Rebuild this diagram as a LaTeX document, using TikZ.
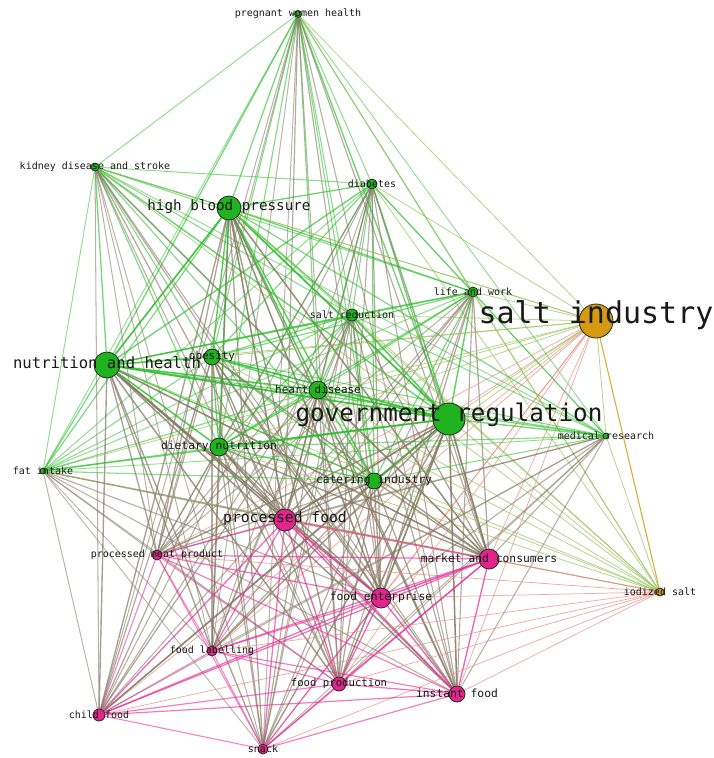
\documentclass[tikz,border=0pt]{standalone}
\usepackage{fontspec}
\newfontfamily\netfont{DejaVu Sans Mono}
\usetikzlibrary{backgrounds}
\definecolor{nodegreen}{HTML}{1FB41F}
\definecolor{nodepink}{HTML}{E2248C}
\definecolor{nodegold}{HTML}{D49A10}
\definecolor{edgeGG}{HTML}{2BBE2B}
\definecolor{edgePP}{HTML}{E62C96}
\definecolor{edgeYY}{HTML}{D8A020}
\definecolor{edgeGP}{HTML}{837862}
\definecolor{edgeGY}{HTML}{96C25A}
\definecolor{edgePY}{HTML}{E8867C}
\tikzset{
  vertex/.style={circle,draw=black!85,line width=.6pt,inner sep=0pt},
  vertexG/.style={vertex,fill=nodegreen},
  vertexP/.style={vertex,fill=nodepink},
  vertexY/.style={vertex,fill=nodegold},
  eGG/.style={draw=edgeGG}, ePP/.style={draw=edgePP},
  eYY/.style={draw=edgeYY,line width=.8pt,draw opacity=.9},
  eGP/.style={draw=edgeGP}, ePG/.style={eGP},
  eGY/.style={draw=edgeGY,line width=.6pt,draw opacity=.7}, eYG/.style={eGY},
  ePY/.style={draw=edgePY,line width=.55pt,draw opacity=.7}, eYP/.style={ePY},
  tag/.style={inner sep=0pt,text=black!90}
}
% name/x/y/radius/group/font size/label
\def\netlist{preg/298/14/3.5/G/7.5/pregnant women health,
  kidney/95/167/4/G/7.5/kidney disease and stroke,
  diabetes/372/184/5/G/7.5/diabetes,
  hbp/229/208/12/G/10.7/high blood pressure,
  life/473/292/5/G/7.5/life and work,
  saltind/596/321/17/Y/22.5/salt industry,
  saltred/352/315/6/G/7.5/salt reduction,
  nutr/107/365/13/G/11.7/nutrition and health,
  obesity/212/357/8/G/8.2/obesity,
  heart/318/390/9/G/8.2/heart disease,
  gov/449/419/16/G/18.2/government regulation,
  medical/606/436/3/G/7.5/medical research,
  dietary/219/447/9/G/8.5/dietary nutrition,
  fat/43/471/3/G/7.5/fat intake,
  catering/374/481/8/G/8.5/catering industry,
  procfood/285/520/11/P/11/processed food,
  procmeat/157/555/5/P/7.5/processed meat product,
  market/489/559/10/P/8.5/market and consumers,
  iodized/660/592/4/Y/7.5/iodized salt,
  enterprise/381/598/10/P/8.5/food enterprise,
  labelling/212/651/5/P/7.5/food labelling,
  production/339/684/7/P/8/food production,
  instant/457/694/8/P/8.5/instant food,
  child/99/715/6/P/7.5/child food,
  snack/263/749/5/P/7.5/snack}
\begin{document}
\begin{tikzpicture}[x=.75pt,y=-.75pt]
  \useasboundingbox (0,0) rectangle (714,758);
  \foreach \a/\xa/\ya/\ra/\ga/\fa/\la in \netlist
    \node[vertex\ga,minimum size=\ra*1.5pt] (\a) at (\xa,\ya) {};
  \begin{scope}[on background layer]
    \foreach \a/\xa/\ya/\ra/\ga/\fa/\la [count=\i] in \netlist {
      \foreach \b/\xb/\yb/\rb/\gb/\fb/\lb [count=\j] in \netlist {
        \ifnum\j>\i
          \pgfmathsetmacro\ew{min(1.3,.5+(\ra+\rb)/36)}
          \pgfmathsetmacro\eo{min(.9,.5+\ra*\rb/350)}
          \draw[line width=\ew pt,draw opacity=\eo,e\ga\gb] (\a) -- (\b);
        \fi
      }
    }
  \end{scope}
  \foreach \a/\xa/\ya/\ra/\ga/\fa/\la in \netlist
    \node[tag,font=\netfont\fontsize{\fa}{\fa}\selectfont,yshift=.3pt*(\fa-7)] (\a-lab) at (\a) {\la};
\end{tikzpicture}
\end{document}
